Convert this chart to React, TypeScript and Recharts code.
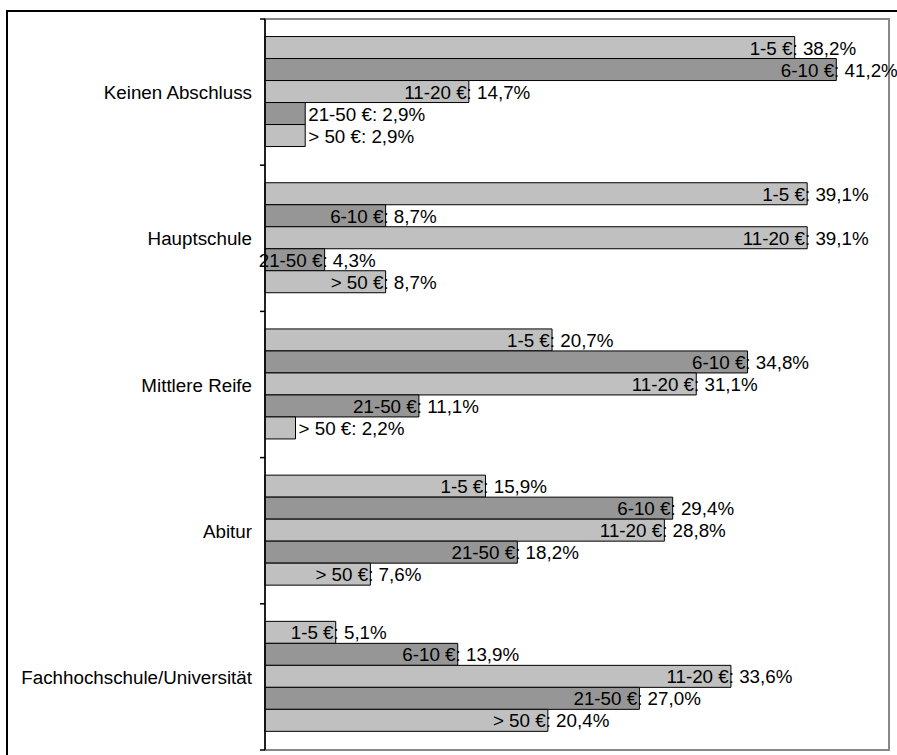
import { BarChart, Bar, XAxis, YAxis, LabelList, ReferenceArea } from "recharts";

const categories = [
  "Keinen Abschluss",
  "Hauptschule",
  "Mittlere Reife",
  "Abitur",
  "Fachhochschule/Universität",
];

const seriesNames = ["1-5 €", "6-10 €", "11-20 €", "21-50 €", "> 50 €"];

const s1to5 = [38.2, 39.1, 20.7, 15.9, 5.1];
const s6to10 = [41.2, 8.7, 34.8, 29.4, 13.9];
const s11to20 = [14.7, 39.1, 31.1, 28.8, 33.6];
const s21to50 = [2.9, 4.3, 11.1, 18.2, 27.0];
const sOver50 = [2.9, 8.7, 2.2, 7.6, 20.4];

const seriesValues = [s1to5, s6to10, s11to20, s21to50, sOver50];
const seriesColors = ["#c0c0c0", "#969696", "#c0c0c0", "#969696", "#c0c0c0"];

const data = categories.map((name, i) => {
  const row: Record<string, string | number> = { name };
  seriesValues.forEach((vals, s) => {
    row["s" + s] = vals[i];
  });
  return row;
});

const FONT_SIZE = 18.8;
const FONT_FAMILY = "'Liberation Sans', Arial, sans-serif";
const AXIS_X = 265;
const TOP = 19;
const BOTTOM = 750;

let ctx: CanvasRenderingContext2D | null = null;
function textWidth(t: string) {
  if (!ctx) ctx = document.createElement("canvas").getContext("2d");
  if (!ctx) return t.length * 10;
  ctx.font = `${FONT_SIZE}px ${FONT_FAMILY}`;
  return ctx.measureText(t).width;
}

const fmt = (v: number) => v.toFixed(1).replace(".", ",") + "%";

// Excel-like label: value text sits just outside the bar end, series name overlaps the bar
function makeLabel(series: string) {
  return (props: any) => {
    const { x, y, width, height, value } = props;
    const barEnd = Number(x) + Number(width);
    const valText = " " + fmt(Number(value));
    const full = series + ":" + valText;
    const end = barEnd + 3 + textWidth(valText);
    let startX = end - textWidth(full);
    if (startX < AXIS_X - 8) startX = barEnd + 3;
    return (
      <text
        x={startX}
        y={Number(y) + Number(height) / 2 + 7}
        textAnchor="start"
        fontSize={FONT_SIZE}
        fontFamily={FONT_FAMILY}
        fill="#000"
      >
        {full}
      </text>
    );
  };
}

const band = (BOTTOM - TOP) / categories.length;

function CategoryTick(props: any) {
  const { y, payload, index } = props;
  return (
    <g>
      <line x1={AXIS_X - 5} x2={AXIS_X} y1={y - band / 2} y2={y - band / 2} stroke="#000" strokeWidth={1.5} />
      {index === categories.length - 1 && (
        <line x1={AXIS_X - 5} x2={AXIS_X} y1={y + band / 2} y2={y + band / 2} stroke="#000" strokeWidth={1.5} />
      )}
      <text
        x={AXIS_X - 13}
        y={y + 7}
        textAnchor="end"
        fontSize={FONT_SIZE}
        fontFamily={FONT_FAMILY}
        fill="#000"
      >
        {payload.value}
      </text>
    </g>
  );
}

export default function App() {
  return (
    <div style={{ position: "fixed", left: 0, top: 0, width: 897, height: 755, overflow: "hidden", background: "#fff" }}>
      <div
        style={{
          position: "absolute",
          left: 6,
          top: 10,
          width: 900,
          height: 760,
          borderTop: "2px solid #000",
          borderLeft: "2px solid #000",
          boxSizing: "border-box",
        }}
      />
      <div style={{ position: "absolute", left: 0, top: 0 }}>
        <BarChart
          width={897}
          height={755}
          data={data}
          layout="vertical"
          margin={{ top: TOP, right: 8, bottom: 755 - BOTTOM, left: 0 }}
          barCategoryGap="12%"
          barGap={0}
        >
          <ReferenceArea x1={0} x2={45} fill="none" stroke="#888" strokeWidth={2} ifOverflow="visible" />
          <XAxis type="number" domain={[0, 45]} hide />
          <YAxis
            type="category"
            dataKey="name"
            width={AXIS_X}
            axisLine={{ stroke: "#000", strokeWidth: 1.5 }}
            tickLine={false}
            tick={<CategoryTick />}
            interval={0}
          />
          {seriesNames.map((n, s) => (
            <Bar
              key={n}
              dataKey={"s" + s}
              name={n}
              fill={seriesColors[s]}
              stroke="#000"
              strokeWidth={1}
              isAnimationActive={false}
            >
              <LabelList dataKey={"s" + s} content={makeLabel(n)} />
            </Bar>
          ))}
        </BarChart>
      </div>
    </div>
  );
}
